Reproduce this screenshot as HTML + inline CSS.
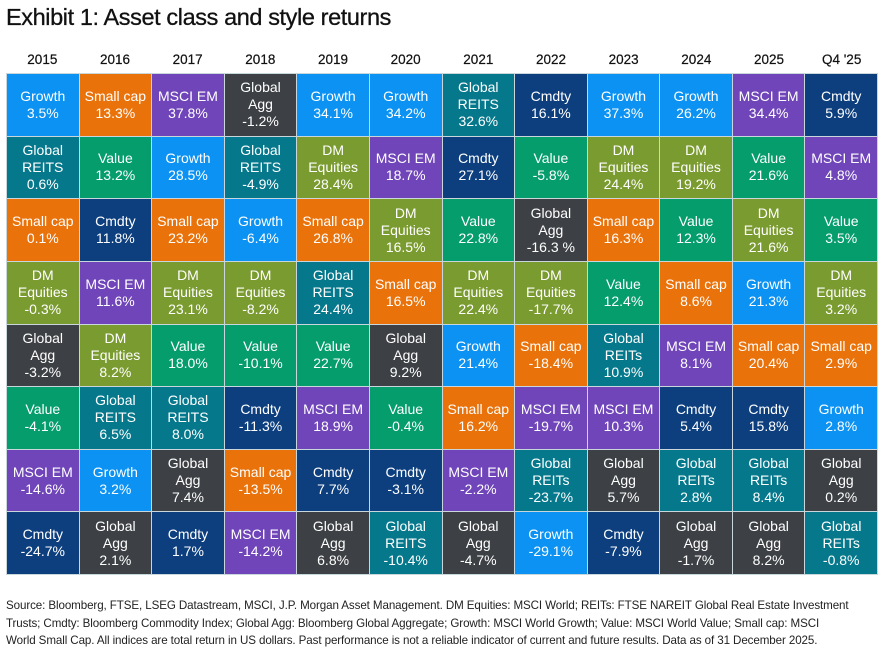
<!DOCTYPE html>
<html><head><meta charset="utf-8"><style>
*{margin:0;padding:0;box-sizing:border-box}
body{width:891px;height:653px;background:#fff;font-family:"Liberation Sans",Arial,sans-serif;position:relative;overflow:hidden}
h1{position:absolute;left:6px;top:4px;font-size:23.5px;font-weight:normal;color:#111;letter-spacing:-0.4px;-webkit-text-stroke:0.3px #111}
.hdr{position:absolute;left:6px;top:52px;width:872px;display:grid;grid-template-columns:repeat(12,1fr);font-size:13.5px;color:#111;text-align:center;-webkit-text-stroke:0.2px #111}
.grid{position:absolute;left:6px;top:73px;width:872px;height:502px;display:grid;grid-template-columns:repeat(12,1fr);grid-template-rows:repeat(8,1fr);grid-auto-flow:column;gap:1px;background:#c9d6dc;border:1px solid #c9d6dc}
.grid div{display:flex;align-items:center;justify-content:center;text-align:center;color:#fff;font-size:14px;line-height:17px}
.G{background:#0b92f2}.S{background:#e9720b}.E{background:#6f45b9}.A{background:#3d4145}
.R{background:#06788c}.V{background:#049d6b}.C{background:#0d3f7f}.D{background:#7a9b2f}
.foot{position:absolute;left:6px;top:597px;font-size:11.6px;line-height:17.5px;color:#222;white-space:nowrap;letter-spacing:-0.1px}
</style></head><body>
<h1>Exhibit 1: Asset class and style returns</h1>
<div class="hdr"><span>2015</span><span>2016</span><span>2017</span><span>2018</span><span>2019</span><span>2020</span><span>2021</span><span>2022</span><span>2023</span><span>2024</span><span>2025</span><span>Q4 '25</span></div>
<div class="grid">
<div class="G">Growth<br>3.5%</div><div class="R">Global<br>REITS<br>0.6%</div><div class="S">Small cap<br>0.1%</div><div class="D">DM<br>Equities<br>-0.3%</div><div class="A">Global<br>Agg<br>-3.2%</div><div class="V">Value<br>-4.1%</div><div class="E">MSCI EM<br>-14.6%</div><div class="C">Cmdty<br>-24.7%</div>
<div class="S">Small cap<br>13.3%</div><div class="V">Value<br>13.2%</div><div class="C">Cmdty<br>11.8%</div><div class="E">MSCI EM<br>11.6%</div><div class="D">DM<br>Equities<br>8.2%</div><div class="R">Global<br>REITS<br>6.5%</div><div class="G">Growth<br>3.2%</div><div class="A">Global<br>Agg<br>2.1%</div>
<div class="E">MSCI EM<br>37.8%</div><div class="G">Growth<br>28.5%</div><div class="S">Small cap<br>23.2%</div><div class="D">DM<br>Equities<br>23.1%</div><div class="V">Value<br>18.0%</div><div class="R">Global<br>REITS<br>8.0%</div><div class="A">Global<br>Agg<br>7.4%</div><div class="C">Cmdty<br>1.7%</div>
<div class="A">Global<br>Agg<br>-1.2%</div><div class="R">Global<br>REITS<br>-4.9%</div><div class="G">Growth<br>-6.4%</div><div class="D">DM<br>Equities<br>-8.2%</div><div class="V">Value<br>-10.1%</div><div class="C">Cmdty<br>-11.3%</div><div class="S">Small cap<br>-13.5%</div><div class="E">MSCI EM<br>-14.2%</div>
<div class="G">Growth<br>34.1%</div><div class="D">DM<br>Equities<br>28.4%</div><div class="S">Small cap<br>26.8%</div><div class="R">Global<br>REITS<br>24.4%</div><div class="V">Value<br>22.7%</div><div class="E">MSCI EM<br>18.9%</div><div class="C">Cmdty<br>7.7%</div><div class="A">Global<br>Agg<br>6.8%</div>
<div class="G">Growth<br>34.2%</div><div class="E">MSCI EM<br>18.7%</div><div class="D">DM<br>Equities<br>16.5%</div><div class="S">Small cap<br>16.5%</div><div class="A">Global<br>Agg<br>9.2%</div><div class="V">Value<br>-0.4%</div><div class="C">Cmdty<br>-3.1%</div><div class="R">Global<br>REITS<br>-10.4%</div>
<div class="R">Global<br>REITS<br>32.6%</div><div class="C">Cmdty<br>27.1%</div><div class="V">Value<br>22.8%</div><div class="D">DM<br>Equities<br>22.4%</div><div class="G">Growth<br>21.4%</div><div class="S">Small cap<br>16.2%</div><div class="E">MSCI EM<br>-2.2%</div><div class="A">Global<br>Agg<br>-4.7%</div>
<div class="C">Cmdty<br>16.1%</div><div class="V">Value<br>-5.8%</div><div class="A">Global<br>Agg<br>-16.3 %</div><div class="D">DM<br>Equities<br>-17.7%</div><div class="S">Small cap<br>-18.4%</div><div class="E">MSCI EM<br>-19.7%</div><div class="R">Global<br>REITs<br>-23.7%</div><div class="G">Growth<br>-29.1%</div>
<div class="G">Growth<br>37.3%</div><div class="D">DM<br>Equities<br>24.4%</div><div class="S">Small cap<br>16.3%</div><div class="V">Value<br>12.4%</div><div class="R">Global<br>REITs<br>10.9%</div><div class="E">MSCI EM<br>10.3%</div><div class="A">Global<br>Agg<br>5.7%</div><div class="C">Cmdty<br>-7.9%</div>
<div class="G">Growth<br>26.2%</div><div class="D">DM<br>Equities<br>19.2%</div><div class="V">Value<br>12.3%</div><div class="S">Small cap<br>8.6%</div><div class="E">MSCI EM<br>8.1%</div><div class="C">Cmdty<br>5.4%</div><div class="R">Global<br>REITs<br>2.8%</div><div class="A">Global<br>Agg<br>-1.7%</div>
<div class="E">MSCI EM<br>34.4%</div><div class="V">Value<br>21.6%</div><div class="D">DM<br>Equities<br>21.6%</div><div class="G">Growth<br>21.3%</div><div class="S">Small cap<br>20.4%</div><div class="C">Cmdty<br>15.8%</div><div class="R">Global<br>REITs<br>8.4%</div><div class="A">Global<br>Agg<br>8.2%</div>
<div class="C">Cmdty<br>5.9%</div><div class="E">MSCI EM<br>4.8%</div><div class="V">Value<br>3.5%</div><div class="D">DM<br>Equities<br>3.2%</div><div class="S">Small cap<br>2.9%</div><div class="G">Growth<br>2.8%</div><div class="A">Global<br>Agg<br>0.2%</div><div class="R">Global<br>REITs<br>-0.8%</div>
</div>
<div class="foot">Source: Bloomberg, FTSE, LSEG Datastream, MSCI, J.P. Morgan Asset Management. DM Equities: MSCI World; REITs: FTSE NAREIT Global Real Estate Investment<br>Trusts; Cmdty: Bloomberg Commodity Index; Global Agg: Bloomberg Global Aggregate; Growth: MSCI World Growth; Value: MSCI World Value; Small cap: MSCI<br>World Small Cap. All indices are total return in US dollars. Past performance is not a reliable indicator of current and future results. Data as of 31 December 2025.</div>
</body></html>
